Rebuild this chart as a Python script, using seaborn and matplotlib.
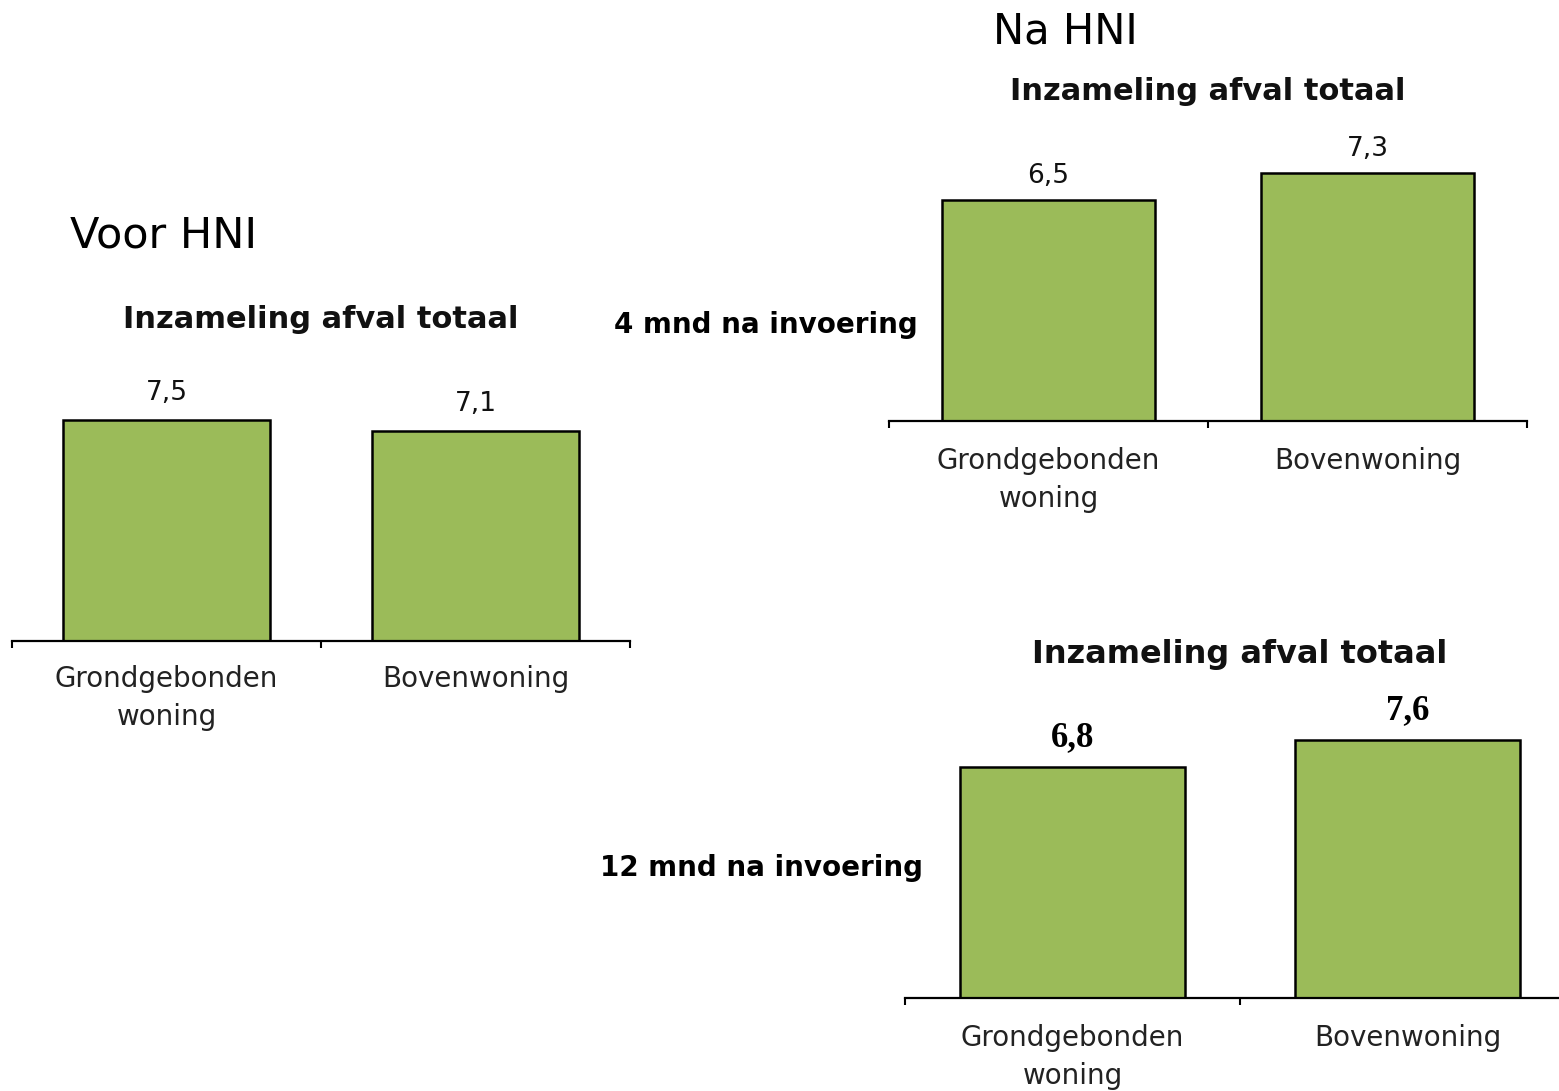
import pandas as pd
import matplotlib.pyplot as plt
import seaborn as sns

categories = ["Grondgebonden\nwoning", "Bovenwoning"]
voor_values = [7.5, 7.1]
na_4mnd_values = [6.5, 7.3]
na_12mnd_values = [6.8, 7.6]
chart_title = "Inzameling afval totaal"

GREEN = "#9BBB59"
W, H = 1559, 1091

sns.set_style("white")
plt.rcParams["font.family"] = ["DejaVu Sans"]


def px_axes(fig, left, right, baseline, height):
    # pixel coords (from top-left) -> figure fraction
    return fig.add_axes([left / W, 1 - baseline / H, (right - left) / W, height / H])


def draw_panel(ax, values, title_size, title_pad, value_font, value_pad, label_pad):
    df = pd.DataFrame({"Woning": categories, "Score": values})
    sns.barplot(
        data=df,
        x="Woning",
        y="Score",
        ax=ax,
        color=GREEN,
        saturation=1,
        width=0.67,
        edgecolor="black",
        linewidth=1.8,
    )
    ax.bar_label(
        ax.containers[0],
        labels=[f"{v:.1f}".replace(".", ",") for v in values],
        padding=value_pad,
        **value_font,
    )
    ax.set_xlim(-0.5, 1.5)
    ax.set_ylim(0, 8.5)
    ax.set_yticks([])
    ax.set_xlabel("")
    ax.set_ylabel("")
    for side in ["left", "right", "top"]:
        ax.spines[side].set_visible(False)
    ax.spines["bottom"].set_linewidth(1.6)
    ax.spines["bottom"].set_color("black")
    ax.set_xticks([-0.5, 0.5, 1.5], minor=True)
    ax.tick_params(axis="x", which="major", length=0, pad=label_pad,
                   labelsize=20, labelcolor="#222222")
    for lbl in ax.get_xticklabels():
        lbl.set_linespacing(1.45)
    ax.tick_params(axis="x", which="minor", length=5, width=1.5, color="black",
                   direction="out", bottom=True)
    ax.set_title(chart_title, fontsize=title_size, fontweight="bold",
                 pad=title_pad, color="#111111")


fig = plt.figure(figsize=(W / 100, H / 100), dpi=100)

# Voor HNI
ax1 = px_axes(fig, 12, 630, 641, 251)
draw_panel(ax1, voor_values, 22, 45,
           dict(fontsize=19, color="#111111"), 10, 17)

# Na HNI, 4 mnd
ax2 = px_axes(fig, 889, 1527, 421, 289)
draw_panel(ax2, na_4mnd_values, 22, 23,
           dict(fontsize=19, color="#111111"), 8, 19)

# Na HNI, 12 mnd
ax3 = px_axes(fig, 905, 1575, 998, 289)
draw_panel(ax3, na_12mnd_values, 23, 33,
           dict(fontsize=25, fontweight="bold", family="Liberation Serif", color="black"),
           9, 19)

fig.text(70 / W, 1 - 235 / H, "Voor HNI", fontsize=31, va="center", ha="left",
         color="black")
fig.text(993 / W, 1 - 32 / H, "Na HNI", fontsize=30, va="center", ha="left",
         color="black")
fig.text(614 / W, 1 - 325 / H, "4 mnd na invoering", fontsize=20,
         fontweight="bold", va="center", ha="left", color="black")
fig.text(600 / W, 1 - 868 / H, "12 mnd na invoering", fontsize=20,
         fontweight="bold", va="center", ha="left", color="black")

fig.savefig("out.png", dpi=100)
